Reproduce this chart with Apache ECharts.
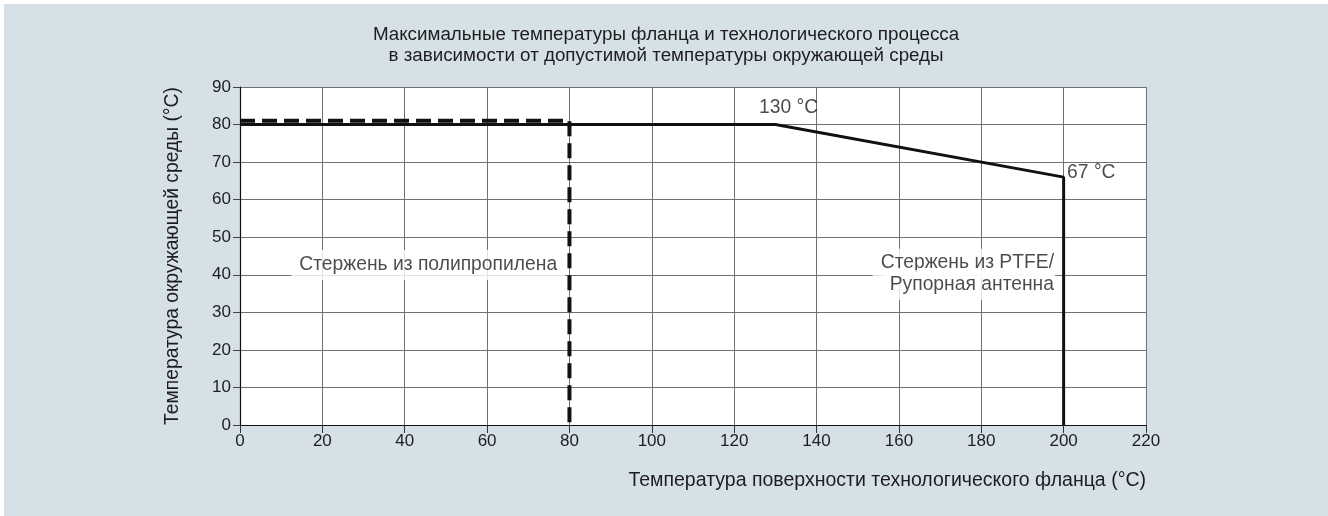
<!DOCTYPE html>
<html>
<head>
<meta charset="utf-8">
<script src="https://cdn.jsdelivr.net/npm/echarts@6/dist/echarts.min.js"></script>
<style>
html,body{margin:0;padding:0;background:#fff;}
#c{position:absolute;left:4px;top:4px;width:1324px;height:512px;}
</style>
</head>
<body>
<div id="c"></div>
<script>
var titleText = 'Максимальные температуры фланца и технологического процесса\nв зависимости от допустимой температуры окружающей среды';
var xName = 'Температура поверхности технологического фланца (°C)';
var yName = 'Температура окружающей среды (°C)';
var xTicks = [0,20,40,60,80,100,120,140,160,180,200,220];
var yTicks = [0,10,20,30,40,50,60,70,80,90];
var solidX = [0,130,200,200];
var solidY = [80,80,66,0];
var dashX = [0,80,80];
var dashY = [81,81,0];
var labelTexts = ['130 °C','67 °C','Стержень из полипропилена','Стержень из PTFE/','Рупорная антенна'];
var labelX = [125.8,200.6,45.7,197.9,197.9];
var labelY = [84.4,67.1,42.6,43.1,37.3];

var font = '"Liberation Sans", Arial, sans-serif';
var chart = echarts.init(document.getElementById('c'));
function zip(a,b){return a.map(function(v,i){return [v,b[i]];});}
var aligns = ['left','left','center','right','right'];
var pads = [[0,1,0,1],[0,1,0,1],[11,8,0,8],[10,1,0,8],[1,1,10,8]];
var labelData = labelTexts.map(function(t,i){
  return {value:[labelX[i],labelY[i]], label:{show:true, formatter:t, align:aligns[i], verticalAlign:'middle', padding:pads[i], lineHeight:19,
    backgroundColor: i>=2 ? '#fff' : 'transparent'}};
});
chart.setOption({
  backgroundColor:'#d6e0e7',
  animation:false,
  title:{text:titleText,left:'center',top:15,textStyle:{fontFamily:font,fontSize:18.8,fontWeight:'normal',color:'#1e1e1e',lineHeight:21}},
  grid:{left:236,top:83,right:182,bottom:91,containLabel:false,show:true,backgroundColor:'#fff',borderWidth:0},
  xAxis:[{type:'value',min:xTicks[0],max:xTicks[xTicks.length-1],interval:20,
    axisLine:{show:true,onZero:false,lineStyle:{color:'#111',width:1.2}},
    axisTick:{show:true,length:8,lineStyle:{color:'#333'}},
    axisLabel:{fontFamily:font,fontSize:17,color:'#1e1e1e',margin:8},
    splitLine:{show:true,lineStyle:{color:'#707070',width:1}}},
    {type:'value',position:'top',min:0,max:220,interval:20,axisLine:{show:true,lineStyle:{color:'#111',width:1.2}},axisTick:{show:false},axisLabel:{show:false},splitLine:{show:false}}],
  yAxis:{type:'value',min:yTicks[0],max:yTicks[yTicks.length-1],interval:10,
    name:yName,nameLocation:'middle',nameGap:58,nameTextStyle:{fontFamily:font,fontSize:19.3,color:'#1e1e1e'},
    axisLine:{show:true,onZero:false,lineStyle:{color:'#111',width:1.2}},
    axisTick:{show:true,length:7,lineStyle:{color:'#444'}},
    axisLabel:{fontFamily:font,fontSize:17,color:'#1e1e1e',margin:9},
    splitLine:{show:true,lineStyle:{color:'#707070',width:1}}},
  graphic:[{type:'text',right:182,top:467,style:{text:xName,fontFamily:font,fontSize:19.5,fill:'#1e1e1e',textAlign:'right'}}],
  series:[
    {type:'line',data:zip(dashX,dashY),symbol:'none',z:3,lineStyle:{color:'#111',width:4,type:[15,7]}},
    {type:'line',data:zip(solidX,solidY),symbol:'none',z:4,lineStyle:{color:'#111',width:3}},
    {type:'scatter',data:labelData,symbolSize:0,z:5,label:{fontFamily:font,fontSize:19.3,color:'#1e1e1e'}}
  ]
});
</script>
</body>
</html>
